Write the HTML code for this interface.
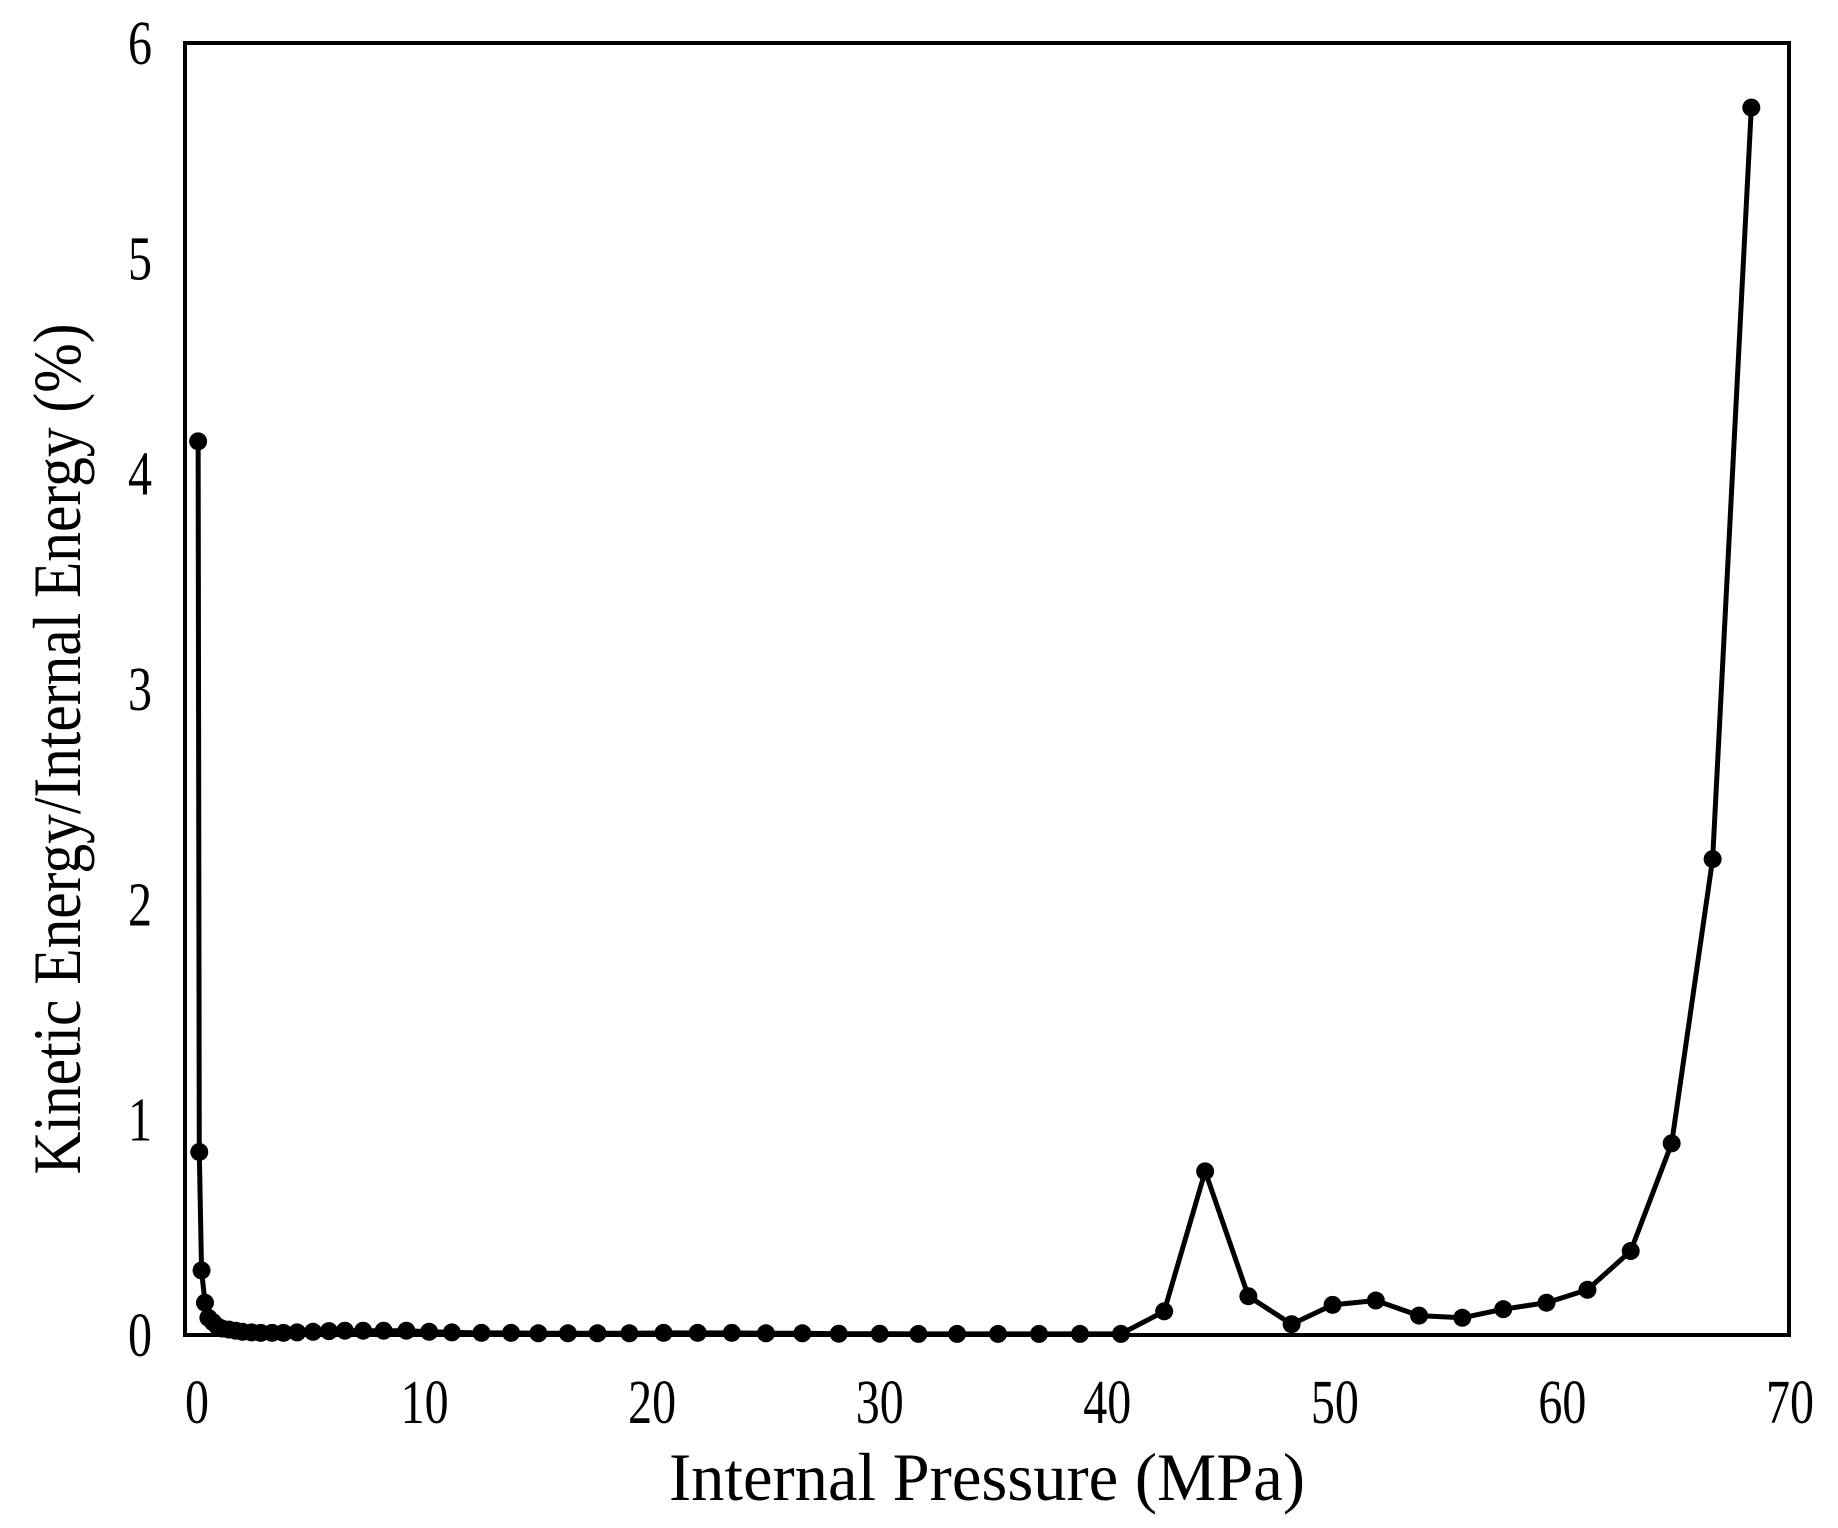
<!DOCTYPE html>
<html><head><meta charset="utf-8"><style>
html,body{margin:0;padding:0;background:#fff;}
svg{display:block;font-family:"Liberation Serif",serif;}
</style></head><body>
<svg id="chart" width="1838" height="1528" viewBox="0 0 1838 1528">
<rect x="185" y="43" width="1604" height="1292" fill="none" stroke="#000" stroke-width="4"/>
<g id="ticks"></g>
<g id="series"></g>
<text x="987" y="1500" font-size="68" text-anchor="middle" textLength="636" lengthAdjust="spacingAndGlyphs">Internal Pressure (MPa)</text>
<text transform="translate(80,749) rotate(-90)" font-size="68" text-anchor="middle" textLength="851" lengthAdjust="spacingAndGlyphs">Kinetic Energy/Internal Energy (%)</text>
</svg>
<script>
const xTicks=[0,10,20,30,40,50,60,70];
const yTicks=[0,1,2,3,4,5,6];
const pressure=[0.05,0.1,0.2,0.35,0.5,0.7,0.9,1.1,1.4,1.7,2.0,2.4,2.8,3.3,3.8,4.4,5.1,5.8,6.5,7.3,8.2,9.2,10.2,11.2,12.5,13.8,15.0,16.3,17.6,19.0,20.5,22.0,23.5,25.0,26.6,28.2,30.0,31.7,33.4,35.2,37.0,38.8,40.6,42.5,44.3,46.2,48.1,49.9,51.8,53.7,55.6,57.4,59.3,61.1,63.0,64.8,66.6,68.3];
const ratio=[4.15,0.85,0.30,0.15,0.08,0.06,0.04,0.03,0.025,0.02,0.015,0.012,0.01,0.01,0.01,0.012,0.015,0.018,0.02,0.02,0.02,0.02,0.015,0.012,0.01,0.01,0.008,0.008,0.008,0.008,0.01,0.01,0.01,0.008,0.008,0.006,0.006,0.005,0.005,0.005,0.005,0.005,0.005,0.11,0.76,0.18,0.05,0.14,0.16,0.09,0.08,0.12,0.15,0.21,0.39,0.89,2.21,5.70];
const NS="http://www.w3.org/2000/svg";
const X=v=>197+v*(1790-197)/70;
const Y=v=>1335-v*(1335-43)/6;
const SY=1.3;
const tg=document.getElementById('ticks');
xTicks.forEach(t=>{const e=document.createElementNS(NS,'text');
const yy=1423;
e.setAttribute('x',X(t));e.setAttribute('y',yy);e.setAttribute('font-size','48');e.setAttribute('text-anchor','middle');
e.setAttribute('transform',`translate(0,${-yy*(SY-1)}) scale(1,${SY})`);


e.textContent=t;tg.appendChild(e);});
yTicks.forEach(t=>{const e=document.createElementNS(NS,'text');
const yy=Y(t)+21;
e.setAttribute('x',152);e.setAttribute('y',yy);e.setAttribute('font-size','48');e.setAttribute('text-anchor','end');
e.setAttribute('transform',`translate(0,${-yy*(SY-1)}) scale(1,${SY})`);


e.textContent=t;tg.appendChild(e);});
const sg=document.getElementById('series');
const pl=document.createElementNS(NS,'polyline');
pl.setAttribute('points',pressure.map((p,i)=>X(p)+','+Y(ratio[i])).join(' '));
pl.setAttribute('fill','none');pl.setAttribute('stroke','#000');pl.setAttribute('stroke-width','5');
pl.setAttribute('stroke-linejoin','round');


sg.appendChild(pl);
pressure.forEach((p,i)=>{const c=document.createElementNS(NS,'circle');
c.setAttribute('cx',X(p));c.setAttribute('cy',Y(ratio[i]));c.setAttribute('r','9');c.setAttribute('fill','#000');


sg.appendChild(c);});
</script>
</body></html>
